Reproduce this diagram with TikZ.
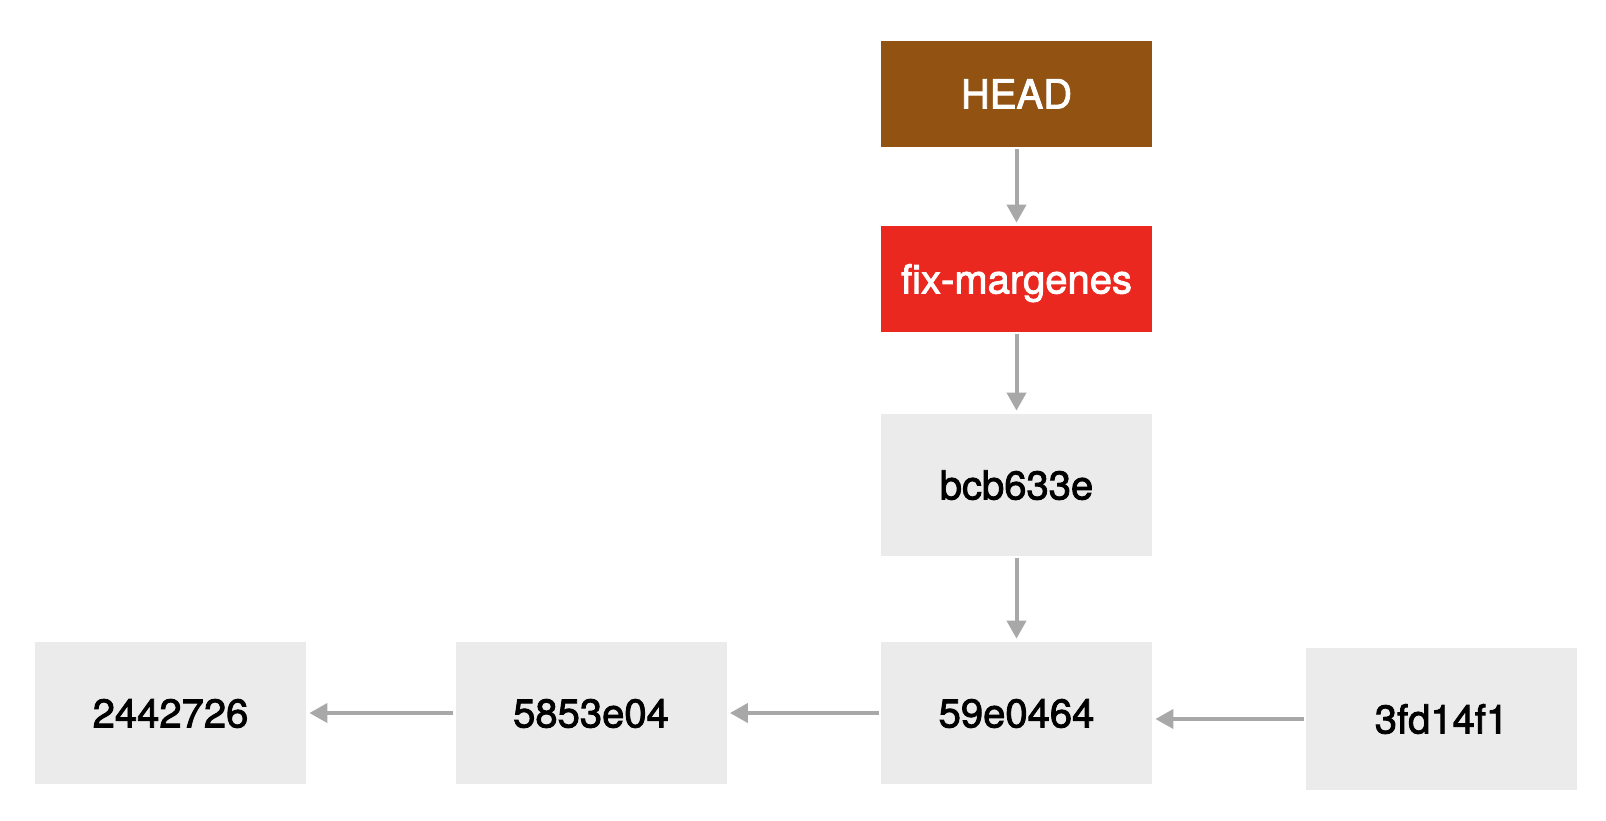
\documentclass[tikz,border=0pt]{standalone}
\usepackage{fontspec}
\setmainfont{TeX Gyre Heros}[FakeBold=2.2]
\usetikzlibrary{arrows.meta}
\definecolor{headbrown}{HTML}{915212}
\definecolor{branchred}{HTML}{EB2820}
\definecolor{commitgray}{HTML}{EBEBEB}
\definecolor{arrowgray}{HTML}{A8A8A8}
\begin{document}
\begin{tikzpicture}[x=0.5pt,y=-0.5pt,
  box/.style={inner sep=0pt, minimum width=135.5pt, text height=14.4pt, text depth=0pt, font=\fontsize{20}{24}\selectfont},
  refbox/.style={box, minimum height=53pt, text=white},
  commit/.style={box, minimum height=71pt, fill=commitgray, text=black},
  link/.style={draw=arrowgray, line width=2pt, -{Triangle[length=9pt,width=9.5pt]}, shorten >=1.5pt, shorten <=1pt}
]
\useasboundingbox[fill=white] (0,0) rectangle (1606,820);
\node[refbox, fill=headbrown] (head) at (1016.5,94) {HEAD};
\node[refbox, fill=branchred] (fix) at (1016.5,279) {fix-margenes};
\node[commit] (bcb) at (1016.5,485) {bcb633e};
\node[commit] (c59) at (1016.5,713) {59e0464};
\node[commit] (c58) at (591,713) {5853e04};
\node[commit] (c24) at (170.5,713) {2442726};
\node[commit] (c3f) at (1441.5,719) {3fd14f1};
\draw[link] (head) -- (fix);
\draw[link] (fix) -- (bcb);
\draw[link] (bcb) -- (c59);
\draw[link] (c59) -- (c58);
\draw[link] (c58) -- (c24);
\draw[link] (c3f) -- (c3f -| c59.east);
\end{tikzpicture}
\end{document}
